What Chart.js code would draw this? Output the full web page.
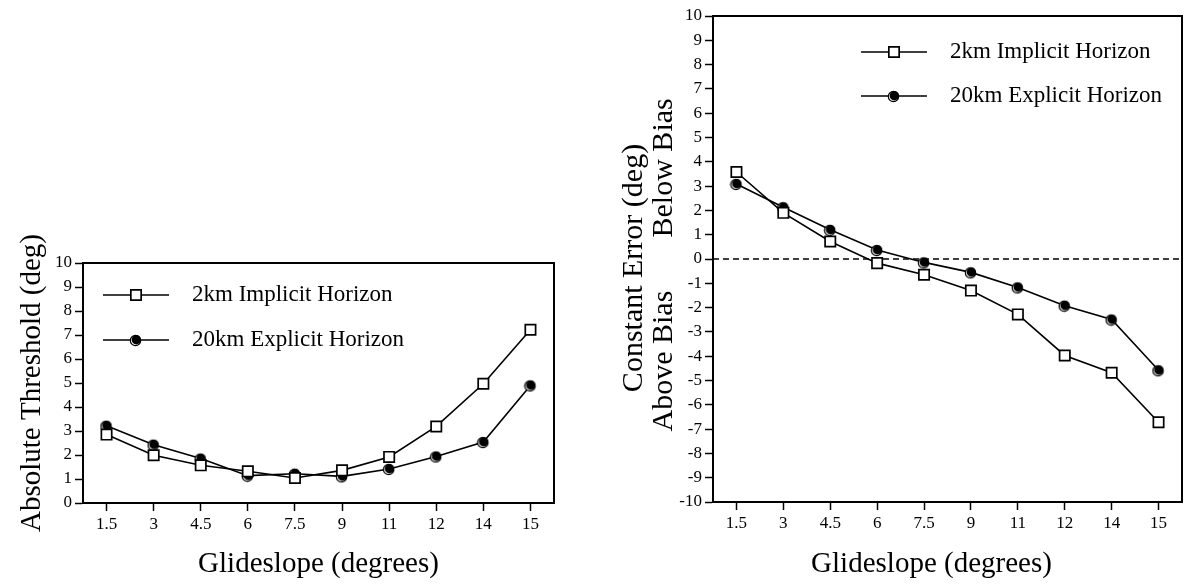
<!DOCTYPE html>
<html>
<head>
<meta charset="utf-8">
<script src="https://cdn.jsdelivr.net/npm/chart.js@4.4.1/dist/chart.umd.min.js"></script>
<style>
  html, body { margin: 0; padding: 0; background: #fff; }
  #wrap { position: relative; width: 1184px; height: 584px; }
  canvas { position: absolute; top: 0; }
  #left-chart { left: 0; }
  #right-chart { left: 592px; }
</style>
</head>
<body>
<div id="wrap">
  <canvas id="left-chart" width="592" height="584"></canvas>
  <canvas id="right-chart" width="592" height="584"></canvas>
</div>
<script>
/* ===== Glideslope threshold / constant error charts ===== */

const glideslopes = ['1.5', '3', '4.5', '6', '7.5', '9', '11', '12', '14', '15'];
const seriesNames = ['2km Implicit Horizon', '20km Explicit Horizon'];

// Absolute threshold (deg)
const thresholdImplicit = [2.85, 1.99, 1.57, 1.32, 1.04, 1.36, 1.92, 3.19, 4.97, 7.22];
const thresholdExplicit = [3.22, 2.43, 1.85, 1.14, 1.22, 1.11, 1.42, 1.94, 2.54, 4.90];

// Constant error (deg): positive = below bias, negative = above bias
const errorImplicit = [3.58, 1.90, 0.72, -0.17, -0.65, -1.30, -2.28, -3.97, -4.68, -6.72];
const errorExplicit = [3.09, 2.13, 1.20, 0.37, -0.14, -0.55, -1.17, -1.92, -2.49, -4.58];

const FONT = "'Liberation Serif', 'Times New Roman', serif";

/** Filled dot with a light rim, like the printed marker */
function makeDotMarker() {
  const c = document.createElement('canvas');
  c.width = 14; c.height = 14;
  const g = c.getContext('2d');
  g.beginPath();
  g.arc(6.5, 7.5, 5.2, 0, Math.PI * 2);
  g.fillStyle = '#fff';
  g.fill();
  g.lineWidth = 1.2;
  g.strokeStyle = '#000';
  g.stroke();
  g.beginPath();
  g.arc(7.3, 6.7, 4.7, 0, Math.PI * 2);
  g.fillStyle = '#000';
  g.fill();
  return c;
}
const dot = makeDotMarker();

function seriesSets(implicitVals, explicitVals) {
  return [{
    label: seriesNames[0],
    data: implicitVals,
    borderColor: '#000',
    borderWidth: 1.6,
    pointStyle: 'rect',
    pointRadius: 7.3,
    pointBackgroundColor: '#fff',
    pointBorderColor: '#000',
    pointBorderWidth: 1.7,
    tension: 0
  }, {
    label: seriesNames[1],
    data: explicitVals,
    borderColor: '#000',
    borderWidth: 1.6,
    pointStyle: dot,
    pointRadius: 6,
    pointBackgroundColor: '#000',
    pointBorderColor: '#000',
    pointBorderWidth: 0,
    tension: 0
  }];
}

/** Legend drawn inside the plot box: line, marker in the middle, label */
const insideLegend = {
  id: 'insideLegend',
  afterDatasetsDraw(chart, args, opts) {
    const {ctx, chartArea} = chart;
    const x0 = chartArea.left + opts.dx;
    const lineLen = 66;
    chart.data.datasets.forEach((ds, i) => {
      const y = chartArea.top + opts.dy + i * opts.gap;
      ctx.save();
      ctx.strokeStyle = '#000';
      ctx.lineWidth = 1.6;
      ctx.beginPath();
      ctx.moveTo(x0, y);
      ctx.lineTo(x0 + lineLen, y);
      ctx.stroke();
      ctx.fillStyle = ds.pointBackgroundColor;
      ctx.lineWidth = ds.pointBorderWidth;
      Chart.helpers.drawPoint(ctx, {
        pointStyle: ds.pointStyle, radius: ds.pointRadius,
        borderWidth: ds.pointBorderWidth, rotation: 0
      }, x0 + lineLen / 2, y);
      ctx.fillStyle = '#000';
      ctx.font = '23px ' + FONT;
      ctx.textBaseline = 'middle';
      ctx.fillText(ds.label, x0 + 89, y);
      ctx.restore();
    });
  }
};

/** Top/right frame lines and optional dashed zero line */
const frame = {
  id: 'frame',
  beforeDatasetsDraw(chart, args, opts) {
    const {ctx, chartArea: a, scales} = chart;
    ctx.save();
    ctx.strokeStyle = '#000';
    if (opts.zeroLine) {
      const y0 = scales.y.getPixelForValue(0);
      ctx.lineWidth = 1.6;
      ctx.setLineDash([6, 4]);
      ctx.beginPath();
      ctx.moveTo(a.left, y0);
      ctx.lineTo(a.right, y0);
      ctx.stroke();
      ctx.setLineDash([]);
    }
    ctx.lineWidth = 2;
    ctx.beginPath();
    ctx.moveTo(a.left, a.top);
    ctx.lineTo(a.right, a.top);
    ctx.lineTo(a.right, a.bottom);
    ctx.stroke();
    ctx.restore();
  }
};

/** x axis title, centred under the plot with an optional shift */
const xTitle = {
  id: 'xTitle',
  afterDraw(chart, args, opts) {
    const {ctx, chartArea: a} = chart;
    ctx.save();
    ctx.font = '29px ' + FONT;
    ctx.fillStyle = '#000';
    ctx.textAlign = 'center';
    ctx.textBaseline = 'middle';
    ctx.fillText('Glideslope (degrees)', (a.left + a.right) / 2 + opts.shift, chart.height - 20);
    ctx.restore();
  }
};

/** Two-line y title of the right chart */
const biasTitles = {
  id: 'biasTitles',
  afterDraw(chart) {
    const {ctx, scales: {y}} = chart;
    ctx.save();
    ctx.font = '30px ' + FONT;
    ctx.fillStyle = '#000';
    ctx.textAlign = 'center';
    ctx.textBaseline = 'middle';
    const put = (text, x, yy) => {
      ctx.save();
      ctx.translate(x, yy);
      ctx.rotate(-Math.PI / 2);
      ctx.fillText(text, 0, 0);
      ctx.restore();
    };
    put('Constant Error (deg)', 42, y.getPixelForValue(0) + 9);
    put('Below Bias', 72, y.getPixelForValue(3.75));
    put('Above Bias', 72, y.getPixelForValue(-4.2));
    ctx.restore();
  }
};

function baseOptions(cfg) {
  return {
    responsive: false,
    animation: false,
    layout: { autoPadding: false, padding: { top: cfg.top, right: cfg.right, left: 0, bottom: 0 } },
    plugins: {
      legend: { display: false },
      tooltip: { enabled: false },
      insideLegend: cfg.legend,
      frame: { zeroLine: cfg.zeroLine },
      xTitle: { shift: cfg.titleShift }
    },
    scales: {
      x: {
        type: 'category',
        offset: true,
        afterFit: s => { s.height = cfg.xHeight; s.paddingLeft = 0; s.paddingRight = 0; },
        border: { color: '#000', width: 2 },
        grid: { drawOnChartArea: false, drawTicks: true, tickLength: 8, tickColor: '#000', tickWidth: 1.5, offset: false },
        ticks: { color: '#000', font: { family: FONT, size: 17 }, padding: 3, maxRotation: 0, autoSkip: false }
      },
      y: {
        min: cfg.yMin, max: cfg.yMax,
        afterFit: s => { s.width = cfg.yWidth; },
        border: { color: '#000', width: 2 },
        grid: { drawOnChartArea: false, drawTicks: true, tickLength: 8, tickColor: '#000', tickWidth: 1.5 },
        ticks: { stepSize: 1, color: '#000', font: { family: FONT, size: 17 }, padding: 3, autoSkip: false },
        title: {
          display: cfg.yTitle !== null, text: cfg.yTitle, color: '#000',
          font: { family: FONT, size: 29, lineHeight: 1 }, padding: { top: 18, bottom: 0 }
        }
      }
    }
  };
}

new Chart(document.getElementById('left-chart').getContext('2d'), {
  type: 'line',
  data: { labels: glideslopes, datasets: seriesSets(thresholdImplicit, thresholdExplicit) },
  options: baseOptions({
    top: 263, right: 38, xHeight: 81, yWidth: 83, yMin: 0, yMax: 10,
    yTitle: 'Absolute Threshold (deg)', zeroLine: false, titleShift: 0,
    legend: { dx: 20, dy: 32, gap: 45 }
  }),
  plugins: [frame, insideLegend, xTitle]
});

new Chart(document.getElementById('right-chart').getContext('2d'), {
  type: 'line',
  data: { labels: glideslopes, datasets: seriesSets(errorImplicit, errorExplicit) },
  options: baseOptions({
    top: 16, right: 2, xHeight: 82, yWidth: 121, yMin: -10, yMax: 10,
    yTitle: null, zeroLine: true, titleShift: -16,
    legend: { dx: 148, dy: 36, gap: 44 }
  }),
  plugins: [frame, insideLegend, xTitle, biasTitles]
});
</script>
</body>
</html>
